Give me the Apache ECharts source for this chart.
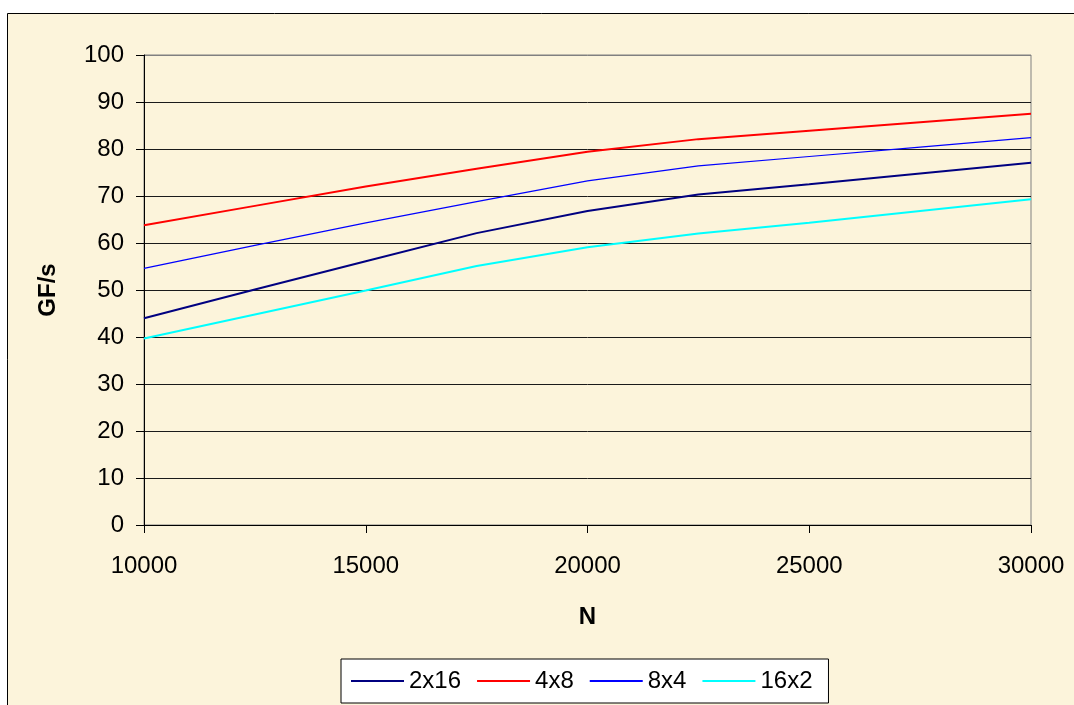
<!DOCTYPE html>
<html>
<head>
<meta charset="utf-8">
<script src="https://cdn.jsdelivr.net/npm/echarts@6/dist/echarts.min.js"></script>
<style>
  html, body { margin: 0; padding: 0; background: #fff; }
  #chart { width: 1074px; height: 705px; }
</style>
</head>
<body>
<div id="chart"></div>
<script>
// problem size N on the x axis
const nValues = [10000, 12500, 15000, 17500, 20000, 22500, 25000, 27500, 30000];

// GF/s per process grid
const grid2x16 = [44.0, 50.1, 56.1, 62.1, 66.8, 70.3, 72.5, 74.8, 77.1];
const grid4x8 = [63.8, 67.9, 72.0, 75.8, 79.4, 82.1, 83.9, 85.7, 87.5];
const grid8x4 = [54.6, 59.5, 64.3, 68.8, 73.2, 76.4, 78.4, 80.4, 82.4];
const grid16x2 = [39.7, 44.8, 49.9, 55.1, 59.1, 62.0, 64.3, 66.8, 69.3];

const seriesNames = ["2x16", "4x8", "8x4", "16x2"];
const seriesValues = [grid2x16, grid4x8, grid8x4, grid16x2];
const seriesColors = ["#000080", "#ff0000", "#0000ff", "#00ffff"];
const seriesWidths = [2, 2, 1.2, 2];

const font = "Liberation Sans, Arial, sans-serif";
const paper = "#fcf4db";

let chart = echarts.init(document.getElementById("chart"));

let series = seriesNames.map((name, i) => ({
  name: name,
  type: "line",
  symbol: "none",
  smooth: false,
  data: nValues.map((n, j) => [n, seriesValues[i][j]]),
  lineStyle: { color: seriesColors[i], width: seriesWidths[i] },
  itemStyle: { color: seriesColors[i] }
}));

// gridline at 100 doubles as the grey plot border
let splitColors = [];
for (let i = 0; i < 10; i++) splitColors.push("#1a1a1a");
splitColors.push("#808080");

let option = {
  animation: false,
  textStyle: { fontFamily: font },
  graphic: [
    {
      type: "rect",
      z: -10,
      left: 7,
      top: 13,
      shape: { width: 1100, height: 720 },
      style: { fill: paper, stroke: "#000", lineWidth: 1 }
    }
  ],
  grid: {
    left: 144,
    top: 55,
    right: 43,
    bottom: 180,
    show: true,
    borderColor: "#808080",
    borderWidth: 1,
    backgroundColor: "transparent"
  },
  legend: {
    data: seriesNames.map((name, i) => ({
      name: name,
      icon: "rect",
      itemStyle: { color: seriesColors[i] }
    })),
    left: 341,
    top: 659,
    padding: [10, 16, 10, 10],
    itemWidth: 53,
    itemHeight: seriesWidths[0],
    itemGap: 16,
    backgroundColor: "#fff",
    borderColor: "#000",
    borderWidth: 1,
    textStyle: { fontSize: 24, color: "#000", fontFamily: font }
  },
  xAxis: {
    type: "value",
    min: 10000,
    max: 30000,
    interval: 5000,
    name: "N",
    nameLocation: "middle",
    nameGap: 80,
    nameTextStyle: { fontSize: 24, fontWeight: "bold", color: "#000", fontFamily: font },
    axisLine: { lineStyle: { color: "#000", width: 1 } },
    axisTick: { show: true, length: 8, lineStyle: { color: "#000" } },
    axisLabel: {
      fontSize: 24,
      color: "#000",
      margin: 29,
      fontFamily: font,
      formatter: (v) => String(v)
    },
    splitLine: { show: false }
  },
  yAxis: {
    type: "value",
    min: 0,
    max: 100,
    interval: 10,
    name: "GF/s",
    nameLocation: "middle",
    nameGap: 84,
    nameRotate: 90,
    nameTextStyle: { fontSize: 24, fontWeight: "bold", color: "#000", fontFamily: font },
    axisLine: { show: true, lineStyle: { color: "#000", width: 1 } },
    axisTick: { show: true, length: 8, lineStyle: { color: "#000" } },
    axisLabel: { fontSize: 24, color: "#000", margin: 20, fontFamily: font },
    splitLine: { show: true, lineStyle: { color: splitColors, width: 1 } }
  },
  series: series
};

chart.setOption(option);
</script>
</body>
</html>
